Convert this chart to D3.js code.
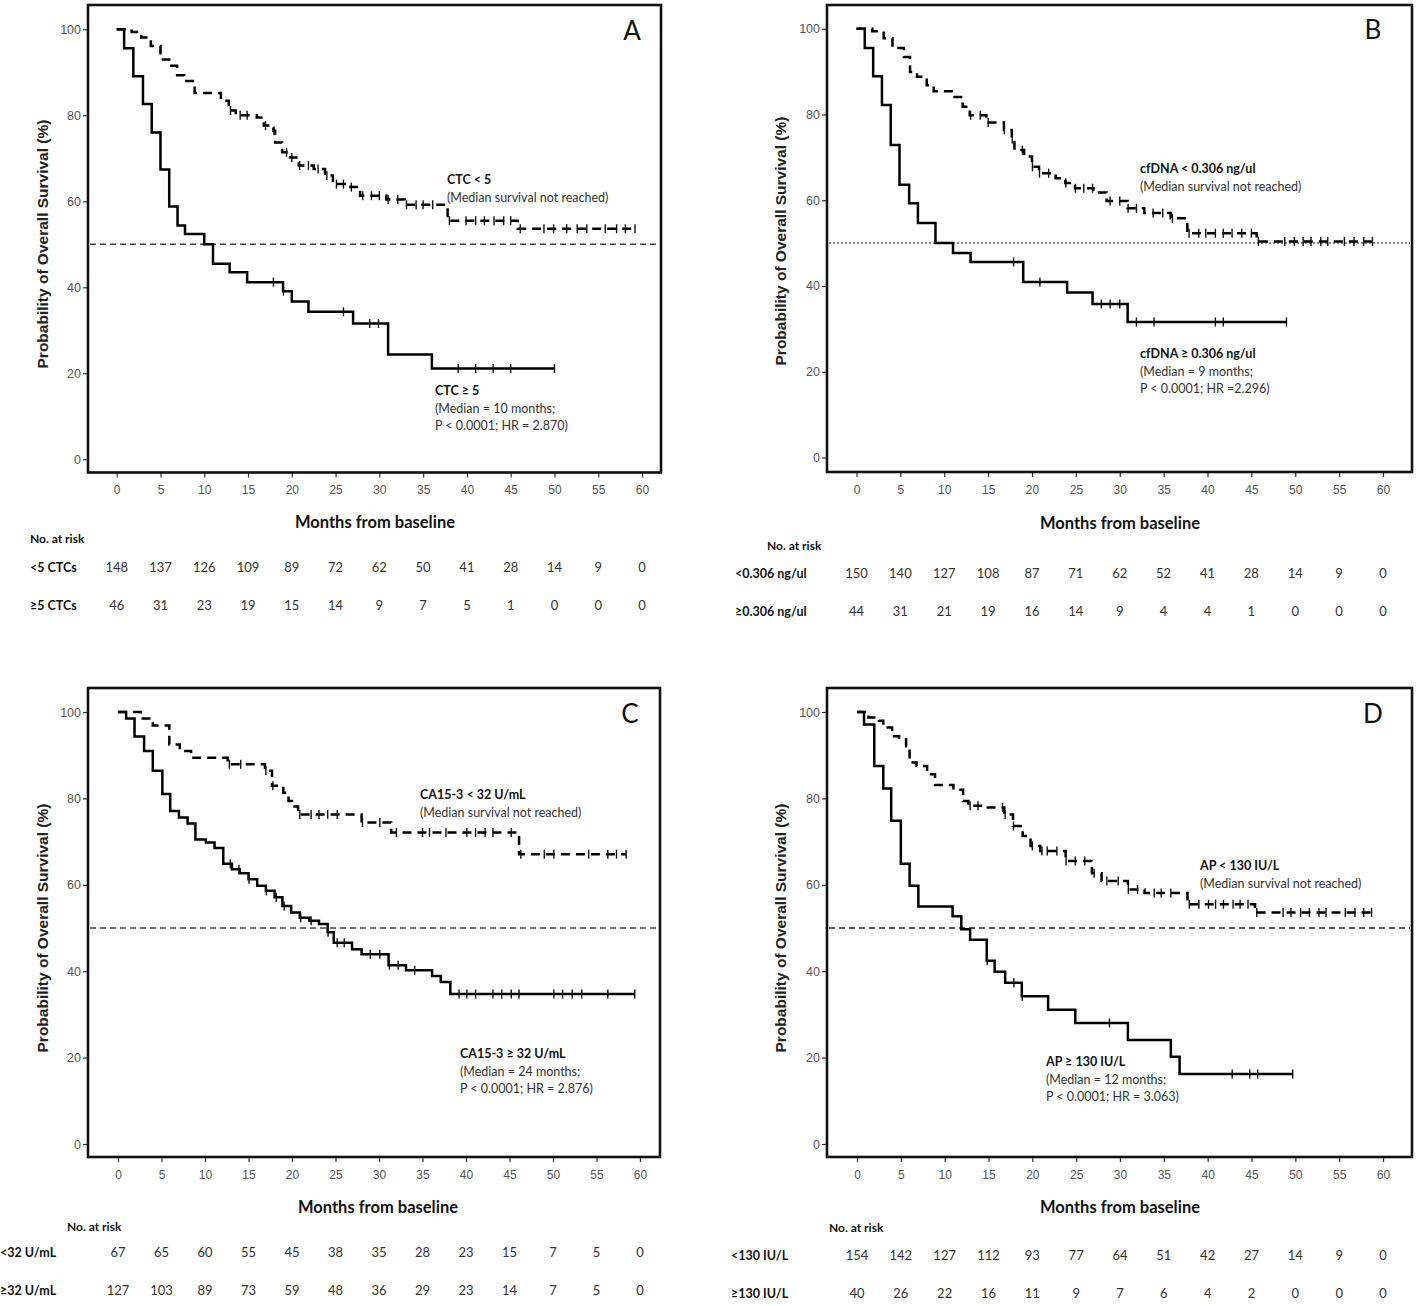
<!DOCTYPE html>
<html><head><meta charset="utf-8">
<script src="https://cdn.jsdelivr.net/npm/d3@7"></script>
<style>body{margin:0;background:#fff}svg{display:block}</style>
</head><body>
<svg id="c" width="1418" height="1306"></svg>
<script>
// ---------------- DATA (months, % survival) ----------------
const xTicks = [0,5,10,15,20,25,30,35,40,45,50,55,60];
const yTicks = [0,20,40,60,80,100];

// Panel A: CTC
const A_lowSteps = [[1.7,99.4],[2.8,98.1],[3.9,96.1],[5.0,93.0],[6.0,91.5],[6.9,89.3],[7.7,88.0],[8.9,85.2],[11.9,83.4],[12.8,81.1],[13.6,80.0],[16.0,79.5],[16.8,77.6],[17.9,76.4],[18.1,73.7],[18.9,71.4],[19.8,70.2],[20.8,68.3],[22.5,67.5],[23.8,66.0],[24.7,64.0],[26.7,63.3],[27.8,61.3],[30.8,60.4],[32.9,59.2],[37.8,55.5],[45.8,53.6]];
const A_lowCens = [13.0,14.1,14.9,17.0,17.97,19.4,20.0,20.9,21.9,23.0,24.0,25.1,25.9,26.8,28.1,29.1,30.0,31.0,32.1,33.1,34.2,35.0,36.1,38.0,39.9,41.0,42.0,43.1,44.2,45.0,46.1,48.8,49.9,51.4,52.6,53.7,55.8,57.1,58.1,59.2];
const A_highSteps = [[0.85,95.6],[1.9,89.1],[3.0,82.6],[4.0,76.0],[5.0,67.4],[6.0,58.8],[6.95,54.4],[7.8,52.4],[10.0,50.0],[11.0,45.5],[12.9,43.5],[14.9,41.2],[19.0,39.1],[20.0,36.7],[21.9,34.3],[27.0,31.6],[31.0,24.4],[36.0,21.1]];
const A_highCens = [17.9,19.05,25.9,28.9,29.9,39.0,41.0,43.0,45.0,50.0];
const A_riskLow = [148,137,126,109,89,72,62,50,41,28,14,9,0];
const A_riskHigh = [46,31,23,19,15,14,9,7,5,1,0,0,0];

// Panel B: cfDNA
const B_lowSteps = [[1.8,99.4],[3.1,97.8],[4.1,95.5],[5.4,93.4],[6.1,89.9],[6.9,88.8],[8.0,86.8],[8.8,85.4],[11.0,84.1],[12.1,81.8],[12.9,79.8],[14.8,78.1],[16.8,76.4],[17.7,74.3],[18.0,71.7],[19.1,70.2],[20.0,67.8],[20.8,66.3],[22.7,65.1],[23.8,64.0],[24.9,62.8],[27.0,61.8],[28.5,59.8],[30.9,58.1],[32.8,57.0],[35.8,55.8],[37.7,52.3],[45.6,50.4]];
const B_lowCens = [13.0,14.1,15.0,16.85,17.75,18.9,20.05,20.85,21.9,23.85,24.95,25.9,26.9,28.9,30.0,30.95,31.9,33.8,34.9,36.0,37.9,39.0,39.8,40.9,41.8,42.8,43.9,45.0,45.8,48.8,49.9,50.9,51.8,52.9,53.7,55.6,56.7,57.8,58.8];
const B_highSteps = [[0.94,95.5],[1.9,88.9],[2.9,82.2],[3.9,72.9],[4.9,63.6],[6.0,59.3],[7.0,54.7],[9.0,50.0],[11.0,47.7],[13.0,45.6],[19.0,40.9],[24.0,38.5],[26.9,35.8],[30.9,31.6]];
const B_highCens = [17.9,20.9,27.9,28.9,30.0,31.9,33.9,40.9,41.8,49.0];
const B_riskLow = [150,140,127,108,87,71,62,52,41,28,14,9,0];
const B_riskHigh = [44,31,21,19,16,14,9,4,4,1,0,0,0];

// Panel C: CA15-3
const C_lowSteps = [[2.6,98.5],[4.0,96.9],[5.9,92.5],[7.1,91.0],[8.4,89.4],[12.6,87.9],[16.9,86.4],[17.7,82.9],[19.0,81.3],[19.6,79.4],[20.0,78.1],[20.7,76.3],[28.0,74.4],[31.4,72.1],[46.1,67.1]];
const C_lowCens = [12.8,14.1,17.0,17.8,20.9,22.2,23.1,24.1,25.2,28.1,30.1,32.0,35.0,35.8,37.7,40.1,41.1,42.2,43.1,45.2,46.3,49.0,50.1,54.1,56.3,57.3,58.4];
const C_highSteps = [[0.94,98.5],[1.9,94.3],[3.0,91.0],[4.0,86.4],[5.1,81.0],[6.0,77.1],[7.0,75.6],[8.0,74.2],[8.9,70.5],[10.1,69.8],[11.1,68.5],[12.1,64.9],[13.1,63.6],[14.0,62.7],[15.0,61.3],[16.0,59.8],[17.0,58.6],[18.0,57.1],[18.9,55.1],[19.9,53.6],[20.9,52.4],[22.0,51.7],[23.1,50.9],[24.1,49.0],[24.8,46.6],[26.9,45.1],[28.0,43.9],[31.1,41.4],[33.1,40.2],[36.1,38.9],[37.1,37.5],[38.2,34.7]];
const C_highCens = [12.9,13.9,15.05,17.05,18.2,19.1,21.0,22.2,24.15,25.2,26.0,29.0,30.1,31.2,32.2,34.1,39.2,40.1,41.1,43.1,44.1,45.2,46.1,50.1,51.1,52.2,53.3,56.3,59.4];
const C_riskLow = [67,65,60,55,45,38,35,28,23,15,7,5,0];
const C_riskHigh = [127,103,89,73,59,48,36,29,23,14,7,5,0];

// Panel D: AP
const D_lowSteps = [[1.3,98.7],[2.5,98.0],[3.0,96.4],[4.0,94.4],[4.8,93.7],[5.6,92.1],[6.0,88.3],[6.8,87.5],[8.0,85.6],[8.9,83.1],[11.0,82.0],[12.1,79.4],[12.7,78.3],[14.7,77.9],[16.8,76.3],[17.8,73.6],[18.9,71.3],[19.8,69.0],[20.9,67.8],[23.8,65.5],[26.8,62.7],[27.9,60.9],[30.9,58.9],[32.8,58.1],[37.7,55.5],[45.4,53.6]];
const D_lowCens = [12.9,13.8,16.6,16.9,17.85,20.0,21.1,21.7,22.8,23.85,24.9,25.98,27.05,28.5,29.8,30.95,32.0,33.9,34.7,35.8,37.9,39.0,40.1,40.9,41.8,42.9,43.7,44.6,45.6,48.6,49.5,50.6,51.6,52.7,53.5,55.7,56.8,57.8,58.7];
const D_highSteps = [[0.8,97.1],[1.97,87.5],[3.0,82.3],[3.9,74.8],[5.0,64.9],[6.0,59.8],[7.0,55.0],[10.9,52.7],[11.9,49.7],[12.9,47.3],[14.8,42.4],[15.7,39.9],[16.9,37.3],[18.8,34.2],[21.8,31.1],[24.9,28.0],[30.9,24.1],[35.8,20.2],[36.8,16.2]];
const D_highCens = [14.85,17.9,18.85,28.8,42.8,44.8,45.7,49.7];
const D_riskLow = [154,142,127,112,93,77,64,51,42,27,14,9,0];
const D_riskHigh = [40,26,22,16,11,9,7,6,4,2,0,0,0];

// ---------------- LAYOUT ----------------
const panels = [
  {letter:"A", x0:116.7, x60:642, y100:29.3, yZero:459.3, frame:[88,5,661,472.5], refDash:"6,4", refColor:"#444",
   low:{steps:A_lowSteps,cens:A_lowCens}, high:{steps:A_highSteps,cens:A_highCens},
   lowText:[["CTC < 5",true],["(Median survival not reached)",false]], lowPos:[447,181],
   highText:[["CTC ≥ 5",true],["(Median = 10 months;",false],["P < 0.0001; HR = 2.870)",false]], highPos:[435,392],
   xTitle:[375,524], yTitle:[44,244],
   risk:{title:"No. at risk", titleX:30, titleY:540, labelX:30, rows:[["<5 CTCs",A_riskLow,569],["≥5 CTCs",A_riskHigh,607]]}},
  {letter:"B", x0:856.5, x60:1383, y100:28.7, yZero:457.5, frame:[827,5,1412,472], refDash:"2,2", refColor:"#666",
   low:{steps:B_lowSteps,cens:B_lowCens}, high:{steps:B_highSteps,cens:B_highCens},
   lowText:[["cfDNA < 0.306 ng/ul",true],["(Median survival not reached)",false]], lowPos:[1140,170],
   highText:[["cfDNA ≥ 0.306 ng/ul",true],["(Median = 9 months;",false],["P < 0.0001; HR =2.296)",false]], highPos:[1140,355],
   xTitle:[1120,525], yTitle:[782,241],
   risk:{title:"No. at risk", titleX:767, titleY:547, labelX:735, rows:[["<0.306 ng/ul",B_riskLow,575],["≥0.306 ng/ul",B_riskHigh,613]]}},
  {letter:"C", x0:118, x60:640, y100:712, yZero:1144, frame:[88,688,660,1157], refDash:"6,4", refColor:"#444",
   low:{steps:C_lowSteps,cens:C_lowCens}, high:{steps:C_highSteps,cens:C_highCens},
   lowText:[["CA15-3 < 32 U/mL",true],["(Median survival not reached)",false]], lowPos:[420,796],
   highText:[["CA15-3 ≥ 32 U/mL",true],["(Median = 24 months;",false],["P < 0.0001; HR = 2.876)",false]], highPos:[460,1055],
   xTitle:[378,1209], yTitle:[44,928],
   risk:{title:"No. at risk", titleX:67, titleY:1228, labelX:0, rows:[["<32 U/mL",C_riskLow,1254],["≥32 U/mL",C_riskHigh,1292]]}},
  {letter:"D", x0:857, x60:1383, y100:712, yZero:1144, frame:[827,688,1412,1157], refDash:"6,4", refColor:"#222",
   low:{steps:D_lowSteps,cens:D_lowCens}, high:{steps:D_highSteps,cens:D_highCens},
   lowText:[["AP < 130 IU/L",true],["(Median survival not reached)",false]], lowPos:[1200,867],
   highText:[["AP ≥ 130 IU/L",true],["(Median = 12 months;",false],["P < 0.0001; HR = 3.063)",false]], highPos:[1046,1063],
   xTitle:[1120,1209], yTitle:[782,928],
   risk:{title:"No. at risk", titleX:829, titleY:1229, labelX:731, rows:[["<130 IU/L",D_riskLow,1257],["≥130 IU/L",D_riskHigh,1295]]}}
];

const calib = "Lato,'Noto Sans',sans-serif";
const arial = "'Liberation Sans',Arial,sans-serif";

const svg = d3.select("#c");

function stepVal(steps, t){ let v=100; for (const [st,sv] of steps) if (st<=t) v=sv; return v; }

panels.forEach(p=>{
  const g = svg.append("g");
  const x = d3.scaleLinear().domain([0,60]).range([p.x0,p.x60]);
  const y = d3.scaleLinear().domain([0,100]).range([p.yZero,p.y100]);
  const [fl,ft,fr,fb] = p.frame;

  const yAxis = d3.axisLeft(y).tickValues(yTicks).tickSize(5).tickPadding(2);
  const ya = g.append("g").attr("transform",`translate(${fl},0)`).call(yAxis);
  ya.select(".domain").remove();
  ya.selectAll("line").attr("stroke","#333").attr("stroke-width",1.2);
  ya.selectAll("text").attr("font-family",arial).attr("font-size",12.5).attr("fill","#555");

  const xAxis = d3.axisBottom(x).tickValues(xTicks).tickSize(5).tickPadding(8);
  const xa = g.append("g").attr("transform",`translate(0,${fb})`).call(xAxis);
  xa.select(".domain").remove();
  xa.selectAll("line").attr("stroke","#333").attr("stroke-width",1.2);
  xa.selectAll("text").attr("font-family",arial).attr("font-size",12).attr("fill","#555");

  g.append("rect").attr("x",fl).attr("y",ft).attr("width",fr-fl).attr("height",fb-ft)
   .attr("fill","none").attr("stroke","#111").attr("stroke-width",2.6);

  g.append("line").attr("x1",fl+2).attr("x2",fr-2).attr("y1",y(50)).attr("y2",y(50))
   .attr("stroke",p.refColor).attr("stroke-width",1.5).attr("stroke-dasharray",p.refDash);

  const line = d3.line().x(d=>x(d[0])).y(d=>y(d[1])).curve(d3.curveStepAfter);
  function drawCurve(c, dashed){
    const end = Math.max(d3.max(c.cens), d3.max(c.steps,d=>d[0]));
    const pts = [[0,100], ...c.steps, [end, c.steps[c.steps.length-1][1]]];
    g.append("path").attr("d",line(pts)).attr("fill","none").attr("stroke","#000")
     .attr("stroke-width",2.5).attr("stroke-dasharray",dashed?"9,6":null);
    g.selectAll(null).data(c.cens).join("line")
     .attr("x1",d=>x(d)).attr("x2",d=>x(d))
     .attr("y1",d=>y(stepVal(c.steps,d))-4.5).attr("y2",d=>y(stepVal(c.steps,d))+4.5)
     .attr("stroke","#111").attr("stroke-width",1.4);
  }
  drawCurve(p.high,false);
  drawCurve(p.low,true);

  function ann(lines,pos){
    lines.forEach((l,i)=>{
      g.append("text").attr("x",pos[0]).attr("y",pos[1]+i*17.5).attr("dominant-baseline","middle")
       .attr("font-family",calib).attr("font-size",12.5).attr("font-weight",l[1]?"bold":"normal")
       .attr("fill",l[1]?"#111":"#333").text(l[0]);
    });
  }
  ann(p.lowText,p.lowPos);
  ann(p.highText,p.highPos);

  g.append("text").attr("x",x(60)-10).attr("y",p.y100+4).attr("text-anchor","middle").attr("dominant-baseline","middle")
   .attr("font-family",calib).attr("font-size",26).attr("fill","#111").text(p.letter);

  g.append("text").attr("transform",`translate(${p.yTitle[0]},${p.yTitle[1]}) rotate(-90)`)
   .attr("text-anchor","middle").attr("dominant-baseline","middle")
   .attr("font-family",arial).attr("font-weight","bold").attr("font-size",15.5).attr("fill","#222")
   .text("Probability of Overall Survival (%)");
  g.append("text").attr("x",p.xTitle[0]).attr("y",p.xTitle[1]).attr("text-anchor","middle").attr("dominant-baseline","middle")
   .attr("font-family",calib).attr("font-weight","bold").attr("font-size",16.5).attr("fill","#111")
   .text("Months from baseline");

  const r = p.risk;
  g.append("text").attr("x",r.titleX).attr("y",r.titleY).attr("dominant-baseline","middle")
   .attr("font-family",calib).attr("font-weight","bold").attr("font-size",12).attr("fill","#111").text(r.title);
  r.rows.forEach(([lab,vals,ry])=>{
    g.append("text").attr("x",r.labelX).attr("y",ry).attr("dominant-baseline","middle")
     .attr("font-family",calib).attr("font-weight","bold").attr("font-size",12.5).attr("fill","#111").text(lab);
    g.selectAll(null).data(vals).join("text")
     .attr("x",(d,i)=>x(xTicks[i])).attr("y",ry).attr("text-anchor","middle").attr("dominant-baseline","middle")
     .attr("font-family",calib).attr("font-size",13).attr("fill","#333").text(d=>d);
  });
});
</script>
</body></html>
